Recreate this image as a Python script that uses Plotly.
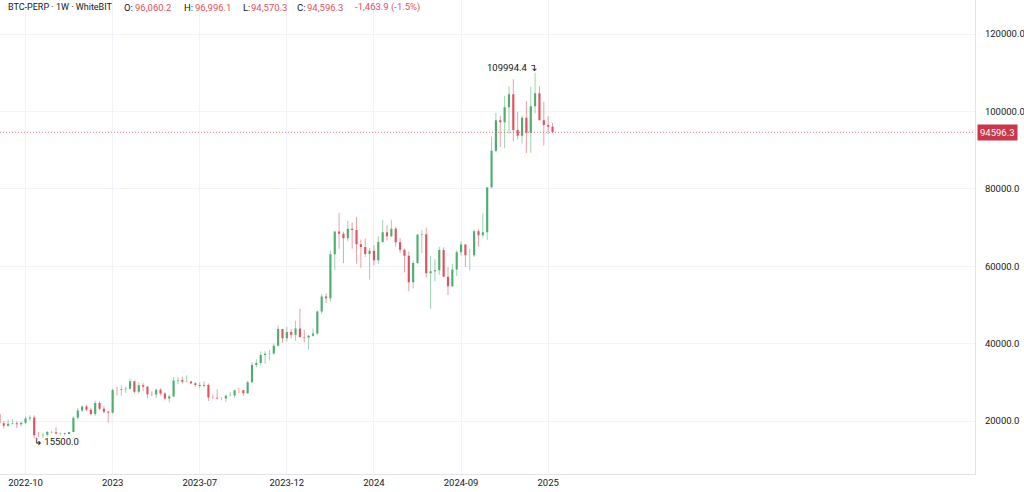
import datetime as dt
import plotly.graph_objects as go

# ---------------- data (weekly bars, first bar = 2022-09-12) ----------------
opens = [21830, 19420, 18800, 19310, 19420, 19190, 19570, 20630, 20920, 16330,
         16290, 16430, 17130, 17100, 16780, 16840, 16620, 17130, 20870, 22710,
         23740, 22930, 21800, 24630, 23170, 22420, 22140, 28000, 27990, 28190,
         28320, 30300, 27590, 29230, 28850, 26920, 26850, 28080, 27100, 25840,
         26340, 30460, 30580, 30160, 30230, 29760, 29280, 29040, 29300, 26090,
         26000, 25830, 25840, 26530, 26570, 27970, 27930, 27150, 29990, 34500,
         35010, 37070, 37360, 37450, 39460, 43780, 41370, 42990, 42280, 43930,
         41730, 41580, 42030, 42580, 48300, 52140, 51730, 63100, 68950, 68400,
         67200, 69650, 69360, 65660, 64940, 63120, 64000, 61540, 66270, 68800,
         67760, 69650, 66200, 64250, 62700, 55850, 60800, 68150, 68250, 58150,
         58700, 58950, 64200, 57300, 54850, 59150, 63600, 65600, 62800, 62850,
         69000, 68000, 68750, 80400, 89850, 97700, 97200, 101100, 104450, 95200,
         93700, 98350, 94500, 101300, 104700, 97700, 96460, 96060.2]
highs = [22800, 19960, 20390, 20480, 19950, 19700, 21090, 21480, 21470, 17190,
         16810, 17400, 17430, 18390, 17060, 16970, 17180, 21260, 23370, 23960,
         24250, 23450, 25250, 25120, 23900, 22600, 28400, 28870, 29180, 28830,
         31000, 30450, 30040, 29820, 29100, 27650, 28300, 28450, 27400, 26800,
         31400, 31280, 31500, 31800, 30340, 29990, 30050, 30250, 29690, 26830,
         28140, 26130, 26840, 27480, 28000, 28600, 28000, 30400, 35200, 35950,
         37970, 37980, 38420, 39990, 44700, 43800, 44400, 43800, 45900, 49000,
         43580, 42250, 43880, 48600, 52800, 52980, 64000, 69000, 73800, 68920,
         71770, 71300, 72800, 66900, 67200, 64700, 65500, 67700, 71950, 70600,
         72000, 70200, 67300, 64500, 63800, 61400, 68400, 69400, 70000, 62700,
         61800, 65000, 64900, 59800, 60600, 64100, 66500, 65600, 64500, 69400,
         69500, 73600, 77200, 93500, 99600, 98900, 104000, 106500, 108350, 99900,
         98900, 102700, 106400, 109994.4, 106450, 102500, 98800, 96996.1]
lows = [19320, 18130, 18470, 19100, 18190, 18650, 19160, 20050, 15500, 15820,
        15600, 16000, 16870, 16530, 16260, 16330, 16500, 17100, 20400, 22290,
        22500, 21460, 21350, 22730, 21970, 19550, 21900, 26600, 26500, 27250,
        28170, 27130, 27020, 27670, 25810, 26420, 25870, 26600, 25350, 24800,
        26250, 29500, 29700, 29950, 29500, 28860, 28580, 28700, 25170, 25780,
        25600, 25340, 24900, 26380, 26000, 27200, 26530, 26950, 29900, 33900,
        34500, 34800, 35630, 37150, 39300, 40200, 40500, 41300, 40750, 41500,
        40300, 38500, 41800, 42260, 47700, 50500, 50900, 59000, 64500, 60800,
        66400, 64500, 60660, 59600, 62400, 56550, 60200, 60600, 66060, 66600,
        67500, 65070, 63380, 58400, 53500, 54260, 60600, 63400, 57100, 49000,
        56100, 57800, 57200, 52550, 54600, 57500, 62700, 59800, 58900, 62400,
        65000, 67400, 66800, 80200, 89400, 90800, 90500, 94200, 92200, 92800,
        91700, 89250, 89300, 99500, 97800, 91200, 94100, 94570.3]
closes = [19420, 18800, 19310, 19420, 19190, 19570, 20630, 20920, 16330, 16290,
          16430, 17130, 17100, 16780, 16840, 16620, 17130, 20870, 22710, 23740,
          22930, 21800, 24630, 23170, 22420, 22140, 28000, 27990, 28190, 28320,
          30300, 27590, 29230, 28850, 26920, 26850, 28080, 27100, 25840, 26340,
          30460, 30580, 30160, 30230, 29760, 29280, 29040, 29300, 26090, 26000,
          25830, 25840, 26530, 26570, 27970, 27930, 27150, 29990, 34500, 35010,
          37070, 37360, 37450, 39460, 43780, 41370, 42990, 42280, 43930, 41730,
          41580, 42030, 42580, 48300, 52140, 51730, 63100, 68950, 68400, 67200,
          69650, 69360, 65660, 64940, 63120, 64000, 61540, 66270, 68800, 67760,
          69650, 66200, 64250, 62700, 55850, 60800, 68150, 68250, 58150, 58700,
          58950, 64200, 57300, 54850, 59150, 63600, 65600, 62800, 62850, 69000,
          68000, 68750, 80400, 89850, 97700, 97200, 101100, 104450, 95200, 93700,
          98350, 94500, 101300, 104700, 97700, 96460, 96060.2, 94596.3]

first_week = dt.date(2022, 9, 12)
weeks = [first_week + dt.timedelta(days=7 * i) for i in range(len(closes))]

tick_bars = [6, 26, 46, 66, 86, 106, 126]
tick_labels = ["2022-10", "2023", "2023-07", "2023-12", "2024", "2024-09", "2025"]
price_ticks = [20000, 40000, 60000, 80000, 100000, 120000]

last_close = closes[-1]
high_label_bar = highs.index(max(highs))
low_label_bar = lows.index(min(lows))

UP = "#4caf6e"
DOWN = "#e4505f"
UP_W = "rgba(76,175,110,0.55)"
DOWN_W = "rgba(228,80,95,0.55)"
TXT = "#131722"
FONT = "Roboto"

# ---------------- wicks ----------------
def wick_xy(cond):
    xs, ys = [], []
    for w, h, l, o, c in zip(weeks, highs, lows, opens, closes):
        if cond(o, c):
            xs += [w, w, None]
            ys += [h, l, None]
    return xs, ys

fig = go.Figure()
xu, yu = wick_xy(lambda o, c: c >= o)
xd, yd = wick_xy(lambda o, c: c < o)
fig.add_trace(go.Scatter(x=xu, y=yu, mode="lines", line=dict(color=UP_W, width=1),
                         hoverinfo="skip", showlegend=False))
fig.add_trace(go.Scatter(x=xd, y=yd, mode="lines", line=dict(color=DOWN_W, width=1),
                         hoverinfo="skip", showlegend=False))

# ---------------- bodies ----------------
fig.add_trace(go.Candlestick(
    x=weeks, open=opens, high=highs, low=lows, close=closes,
    increasing=dict(line=dict(color=UP, width=0), fillcolor=UP),
    decreasing=dict(line=dict(color=DOWN, width=0), fillcolor=DOWN),
    showlegend=False,
))

# ---------------- axes ----------------
x0 = first_week + dt.timedelta(days=7 * 0.168)
x1 = first_week + dt.timedelta(days=7 * 224.05)
fig.update_xaxes(
    range=[x0, x1], type="date",
    tickvals=[weeks[i] for i in tick_bars], ticktext=tick_labels,
    showgrid=True, gridcolor="#f0f3fa", gridwidth=1,
    showline=True, linecolor="#e0e3eb", linewidth=1,
    ticks="", tickfont=dict(family=FONT, size=9.5, color=TXT),
    rangeslider=dict(visible=False), zeroline=False, fixedrange=True,
)
fig.update_yaxes(
    side="right", range=[6305, 128785],
    tickvals=price_ticks, ticktext=[f"{v:.1f}" for v in price_ticks],
    showgrid=True, gridcolor="#f0f3fa", gridwidth=1,
    showline=True, linecolor="#e0e3eb", linewidth=1,
    ticks="", ticklabelstandoff=7,
    tickfont=dict(family=FONT, size=9.5, color=TXT),
    zeroline=False,
)

# ---------------- last price line + label ----------------
fig.add_shape(type="line", xref="paper", x0=0, x1=1, yref="y", y0=last_close, y1=last_close,
              line=dict(color="rgba(228,80,95,0.8)", width=1, dash="1px,2px"))
fig.add_annotation(xref="paper", x=1, xanchor="left", xshift=2, yref="y", y=last_close,
                   text=f"{last_close:.1f}", showarrow=False, bgcolor="#c8374a",
                   font=dict(family=FONT, size=9.5, color="white"), borderpad=2)

# ---------------- high / low markers ----------------
fig.add_annotation(x=weeks[high_label_bar], y=highs[high_label_bar], xanchor="right", yanchor="middle",
                   xshift=4, yshift=5, text=f"{highs[high_label_bar]:.1f} ↴", showarrow=False,
                   font=dict(family=FONT, size=9.5, color=TXT))
fig.add_annotation(x=weeks[low_label_bar], y=lows[low_label_bar], xanchor="left", yanchor="middle",
                   xshift=-2, yshift=-3, text=f"↳ {lows[low_label_bar]:.1f}", showarrow=False,
                   font=dict(family=FONT, size=9.5, color=TXT))

# ---------------- header ----------------
W, H = 975.0, 474.0
o, h, l, c = opens[-1], highs[-1], lows[-1], closes[-1]
chg = c - o
header = [
    (6, "BTC-PERP · 1W · WhiteBIT", TXT, 9),
    (122, "O:", TXT, 9.5), (133, f"{o:,.1f}", DOWN, 9.5),
    (182, "H:", TXT, 9.5), (193, f"{h:,.1f}", DOWN, 9.5),
    (241, "L:", TXT, 9.5), (249, f"{l:,.1f}", DOWN, 9.5),
    (295, "C:", TXT, 9.5), (305, f"{c:,.1f}", DOWN, 9.5),
    (353, f"{chg:,.1f} ({chg / o * 100:.1f}%)", DOWN, 9.5),
]
for px, txt, col, sz in header:
    fig.add_annotation(xref="paper", yref="paper", x=px / W, y=1 - 7.5 / H,
                       xanchor="left", yanchor="middle", text=txt, showarrow=False,
                       font=dict(family=FONT, size=sz, color=col))

fig.update_layout(
    width=1024, height=492,
    margin=dict(l=0, r=49, t=0, b=18),
    paper_bgcolor="white", plot_bgcolor="white",
    showlegend=False, hovermode=False,
)

fig.write_html("out.html", config={"displayModeBar": False})
